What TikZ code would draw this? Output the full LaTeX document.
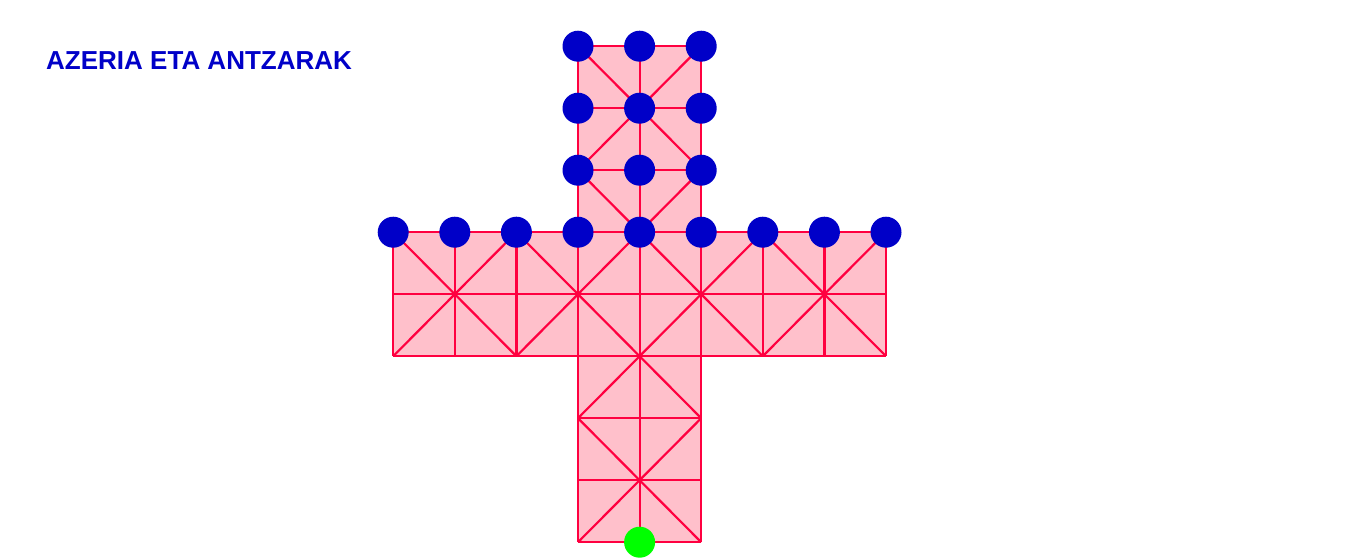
\documentclass[tikz,border=0pt]{standalone}
\usepackage{fontspec}
\setmainfont{Liberation Sans}
\definecolor{boardline}{RGB}{255,0,64}
\definecolor{boardfill}{RGB}{255,192,203}
\definecolor{goosecol}{RGB}{0,0,200}
\definecolor{foxcol}{RGB}{0,255,0}
\begin{document}
\begin{tikzpicture}[x=1pt,y=-1pt,
  grid/.style={draw=boardline,line width=2.2pt},
  goose/.style={circle,fill=goosecol,inner sep=0pt,minimum size=31pt},
  fox/.style={circle,fill=foxcol,inner sep=0pt,minimum size=31pt},
  titletext/.style={anchor=west,inner sep=0pt,text=goosecol,font=\bfseries\fontsize{26}{30}\selectfont}]
\useasboundingbox (0,0) rectangle (1366,558);
\foreach \c in {0,...,8}{\foreach \r in {0,...,8}{\coordinate (p\c\r) at ({393.2+61.6*\c},{46.2+62*\r});}}
% board fill
\fill[boardfill] (p30)--(p50)--(p53)--(p83)--(p85)--(p55)--(p58)--(p38)--(p35)--(p05)--(p03)--(p33)--cycle;
% horizontal lines
\foreach \r in {0,1,2,6,7,8}{\draw[grid] (p3\r) -- (p5\r);}
\foreach \r in {3,4,5}{\draw[grid] (p0\r) -- (p8\r);}
% vertical lines
\foreach \c in {3,4,5}{\draw[grid] (p\c0) -- (p\c8);}
\foreach \c in {0,1,2,6,7,8}{\draw[grid] (p\c3) -- (p\c5);}
% diagonals
\newcommand{\celldiag}[2]{%
  \pgfmathtruncatemacro{\pty}{mod(#1+#2,2)}%
  \pgfmathtruncatemacro{\cnext}{#1+1}%
  \pgfmathtruncatemacro{\rnext}{#2+1}%
  \ifnum\pty=1 \draw[grid] (p#1#2) -- (p\cnext\rnext);%
  \else \draw[grid] (p\cnext#2) -- (p#1\rnext);\fi}
\foreach \c in {3,4}{\foreach \r in {0,1,2,5,6,7}{\celldiag{\c}{\r}}}
\foreach \c in {0,...,7}{\foreach \r in {3,4}{\celldiag{\c}{\r}}}
% geese
\foreach \c in {3,4,5}{\foreach \r in {0,1,2}{\node[goose] (g\c\r) at (p\c\r) {};}}
\foreach \c in {0,...,8}{\node[goose] (g\c3) at (p\c3) {};}
% fox
\node[fox] (fox) at (p48) {};
% title
\node[titletext] (title) at (46,61) {AZERIA ETA ANTZARAK};
\end{tikzpicture}
\end{document}
